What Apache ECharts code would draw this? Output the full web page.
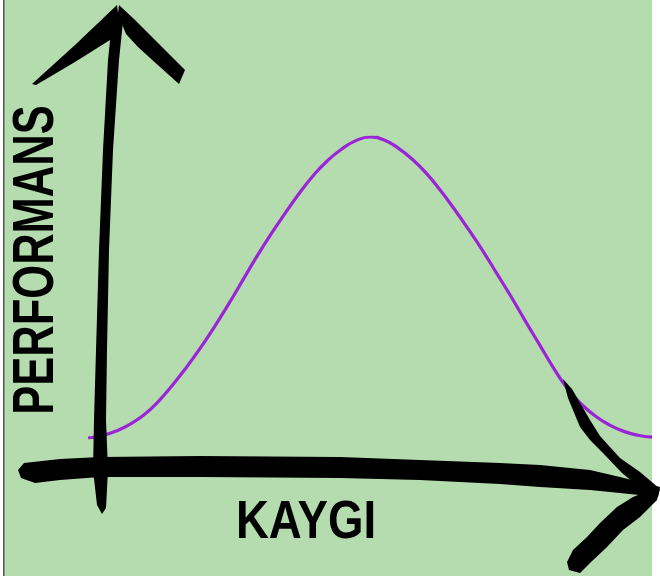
<!DOCTYPE html>
<html>
<head>
<meta charset="utf-8">
<script src="https://cdn.jsdelivr.net/npm/echarts@6/dist/echarts.min.js"></script>
<style>
html,body{margin:0;padding:0;background:#ffffff;}
#c{width:660px;height:576px;}
</style>
</head>
<body>
<div id="c"></div>
<script>
// Data (x: anxiety 0..10, y: performance 0..100)
var xValues = [0,0.25,0.5,0.75,1,1.25,1.5,1.75,2,2.25,2.5,2.75,3,3.25,3.5,3.75,4,4.25,4.5,4.75,5,
               5.25,5.5,5.75,6,6.25,6.5,6.75,7,7.25,7.5,7.75,8,8.25,8.5,8.75,9,9.25,9.5,9.75,10];
var yValues = [0,0.8,2.3,4.6,7.8,12.2,17.6,23.6,30.1,37.2,44.7,52.6,60.5,67.9,74.8,81.4,87.3,92.2,96,98.8,100,
               99,96.3,92.6,87.9,82.2,75.9,69.2,62.2,54.6,47,39,31.2,23.4,16.4,11.2,7.2,4.3,2.2,0.9,0.3];
var yLabel = 'PERFORMANS';
var xLabel = 'KAYGI';

var seriesData = xValues.map(function(x,i){return [x, yValues[i]];});

var ink = '#000000';
var green = '#b5dcae';
var font = '"Liberation Sans", "DejaVu Sans", sans-serif';

var chart = echarts.init(document.getElementById('c'), null, {renderer:'canvas'});
chart.setOption({
  backgroundColor: 'transparent',
  animation: false,
  grid: {left: 88, right: 8, top: 137, bottom: 138},
  xAxis: {type:'value', min:0, max:10, show:false},
  yAxis: {type:'value', min:0, max:100, show:false},
  series: [{
    type:'line', data: seriesData, smooth: true, showSymbol:false, z: 5,
    lineStyle:{color:'#9b24d6', width:3.2}
  }],
  graphic: [
    {type:'rect', z:0, silent:true, shape:{x:4, y:0, width:648, height:576}, style:{fill:green}},
    {type:'rect', z:1, silent:true, shape:{x:3, y:0, width:1.5, height:576}, style:{fill:'#555555'}},
    // vertical shaft
    {type:'polygon', z:20, shape:{points:[[113,12],[108,60],[103,150],[99,250],[96,350],[94,420],[93,470],[97,505],[102,514],[106,508],[108,470],[106,420],[107,350],[109,250],[113,150],[119,60],[124,12]]}, style:{fill:ink}},
    // up arrow wings
    {type:'polygon', z:20, shape:{points:[[117,5],[75,45],[32,84],[36,85],[75,62],[110,40],[120,28]]}, style:{fill:ink}},
    {type:'polygon', z:20, shape:{points:[[119,5],[135,20],[160,45],[185,70],[179,84],[160,67],[138,47],[126,34],[118,14]]}, style:{fill:ink}},
    // horizontal shaft
    {type:'polygon', z:20, shape:{points:[[24,463],[60,459],[100,457],[200,456],[340,457],[420,460],[500,463],[540,465],[590,470],[620,477],[660,487],[658,497],[620,493],[590,490],[540,487],[500,484],[420,480],[340,478],[200,477],[100,477],[60,480],[35,483],[21,478],[18,470]]}, style:{fill:ink}},
    // right arrow wings
    {type:'polygon', z:20, shape:{points:[[563,379],[572,389],[590,420],[600,436],[620,458],[640,472],[660,489],[645,492],[622,473],[602,452],[590,440],[580,427],[568,398]]}, style:{fill:ink}},
    {type:'polygon', z:20, shape:{points:[[660,489],[657,500],[640,517],[623,530],[607,547],[590,563],[580,573],[569,570],[567,562],[573,550],[587,537],[600,523],[617,507],[633,497],[648,491]]}, style:{fill:ink}},
    // labels
    {type:'text', z:30, x:37, y:260, rotation:Math.PI/2, scaleX:0.75, style:{text:yLabel, fill:ink, font:'bold 58px ' + font, align:'center', verticalAlign:'middle'}},
    {type:'text', z:30, x:306, y:523, scaleX:0.86, style:{text:xLabel, fill:ink, font:'bold 53px ' + font, align:'center', verticalAlign:'middle'}}
  ]
});
</script>
</body>
</html>
